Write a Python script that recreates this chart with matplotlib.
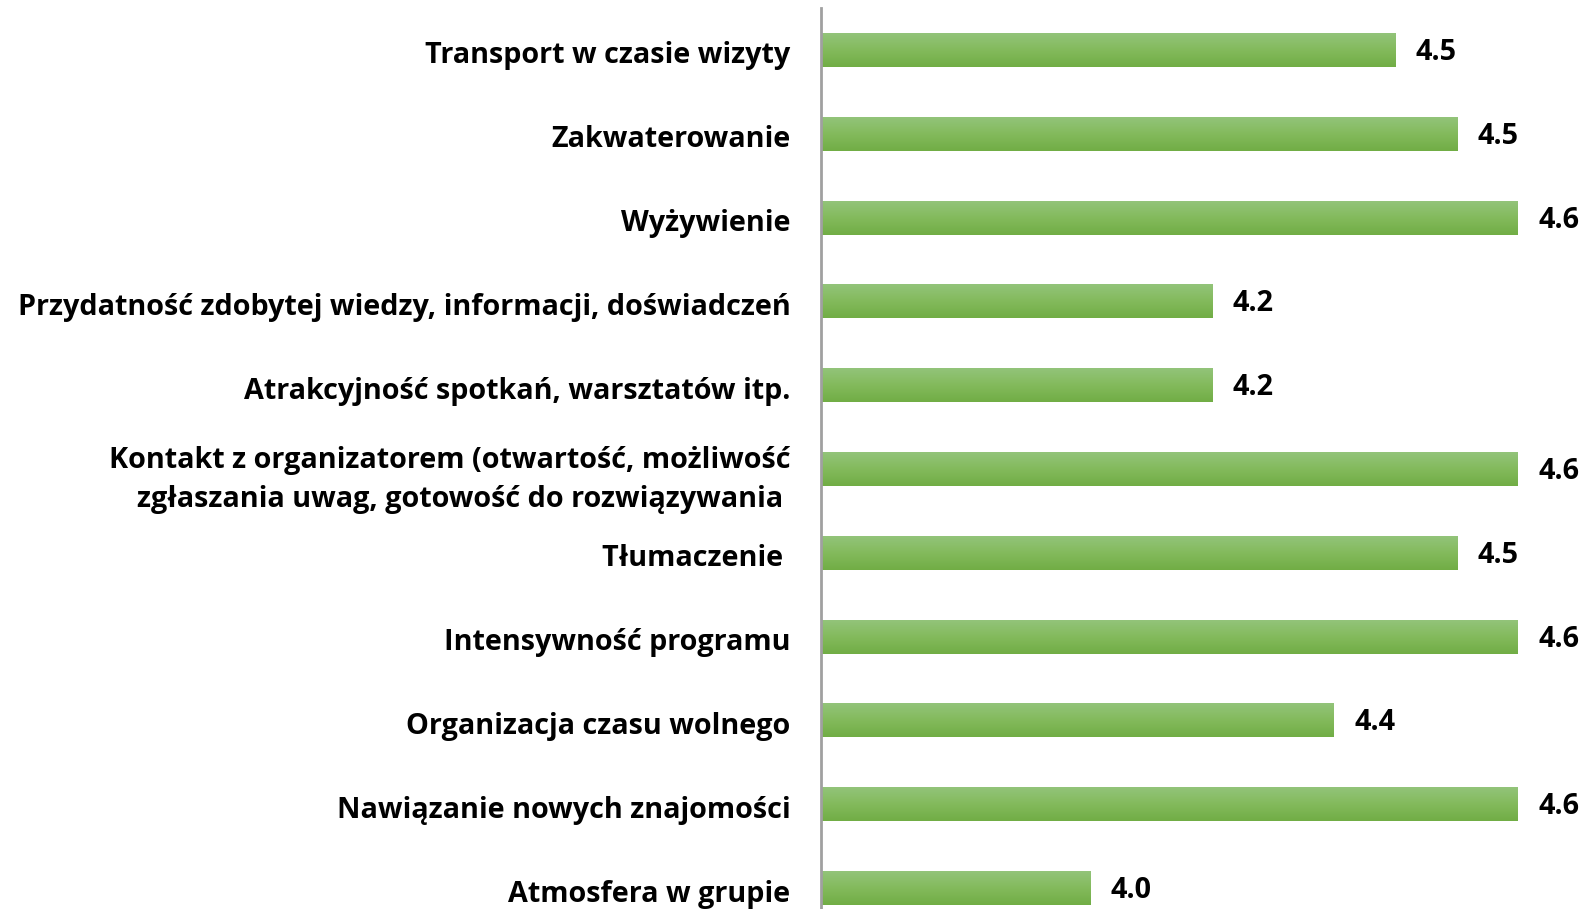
import numpy as np
import matplotlib.pyplot as plt
from matplotlib.colors import LinearSegmentedColormap
from matplotlib.transforms import ScaledTranslation

plt.rcParams['font.family'] = ['Open Sans', 'DejaVu Sans']

categories = [
    "Transport w czasie wizyty",
    "Zakwaterowanie",
    "Wyżywienie",
    "Przydatność zdobytej wiedzy, informacji, doświadczeń",
    "Atrakcyjność spotkań, warsztatów itp.",
    "Kontakt z organizatorem (otwartość, możliwość\nzgłaszania uwag, gotowość do rozwiązywania ",
    "Tłumaczenie ",
    "Intensywność programu",
    "Organizacja czasu wolnego",
    "Nawiązanie nowych znajomości",
    "Atmosfera w grupie",
]
values = [4.454, 4.548, 4.64, 4.175, 4.175, 4.64, 4.548, 4.64, 4.36, 4.64, 3.99]

fig = plt.figure(figsize=(15.88, 9.09), dpi=100)
ax = fig.add_axes([821 / 1588, 0, 1 - 821 / 1588, 1 - 8 / 909])

y = np.arange(len(categories))
bars = ax.barh(y, values, height=0.405, left=0, color='#82B95A', zorder=2)

ax.set_xlim(3.58, 4.747)
ax.set_ylim(10.25, -0.5)

# gradient fill on each bar (lighter on top)
cmap = LinearSegmentedColormap.from_list('g', ['#93C47A', '#83BA5C', '#71AD45'])
grad = np.linspace(0, 1, 256).reshape(-1, 1)
for b in bars:
    x0, y0 = b.get_x(), b.get_y()
    w, h = b.get_width(), b.get_height()
    im = ax.imshow(grad, cmap=cmap, aspect='auto', zorder=3,
                   extent=(ax.get_xlim()[0], x0 + w, y0 + h, y0), origin='upper')
    im.set_clip_path(b)

ax.set_xlim(3.58, 4.747)
ax.set_ylim(10.25, -0.5)

for yi, v in zip(y, values):
    ax.text(v + 0.031, yi + 0.03, f"{v:.1f}", va='center', ha='left',
            fontsize=20.7, fontweight='bold', color='black')

ax.set_yticks(y)
ax.set_yticklabels(categories, fontsize=20.7, fontweight='bold',
                   multialignment='right', linespacing=1.45)
ax.tick_params(axis='y', length=0, pad=22)
shift = ScaledTranslation(0, -2.5 / 100, fig.dpi_scale_trans)
for lbl in ax.get_yticklabels():
    lbl.set_transform(lbl.get_transform() + shift)
ax.set_xticks([])
for s in ['top', 'right', 'bottom']:
    ax.spines[s].set_visible(False)
ax.spines['left'].set_color('#A0A0A0')
ax.spines['left'].set_linewidth(2)
ax.spines['left'].set_zorder(5)

fig.savefig('out.png', dpi=100)
